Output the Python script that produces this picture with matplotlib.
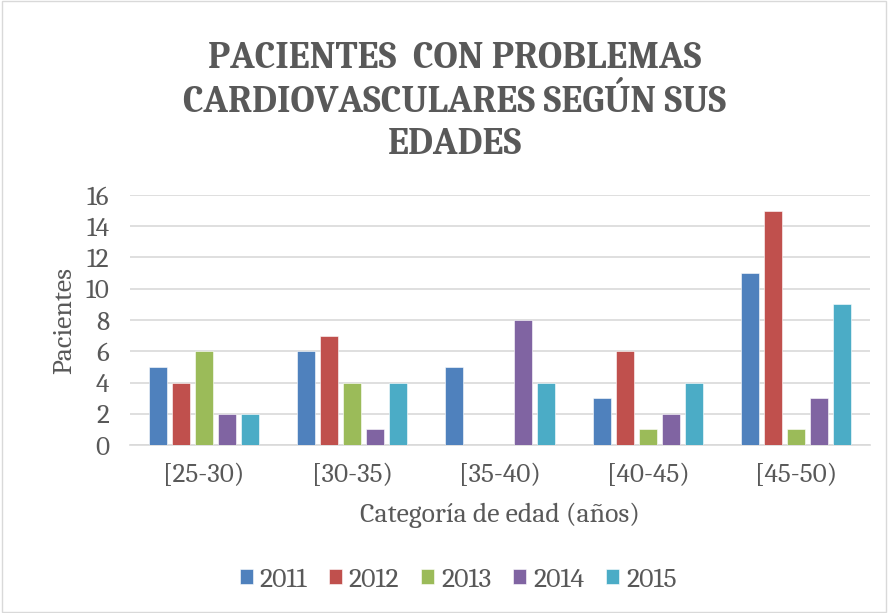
import matplotlib
matplotlib.use("Agg")
import matplotlib.pyplot as plt
import numpy as np

categories = ["[25-30)", "[30-35)", "[35-40)", "[40-45)", "[45-50)"]
years = ["2011", "2012", "2013", "2014", "2015"]
v2011 = [5, 6, 5, 3, 11]
v2012 = [4, 7, 0, 6, 15]
v2013 = [6, 4, 0, 1, 1]
v2014 = [2, 1, 8, 2, 3]
v2015 = [2, 4, 4, 4, 9]
series = [v2011, v2012, v2013, v2014, v2015]
colors = ["#4F81BD", "#C0504D", "#9BBB59", "#8064A2", "#4BACC6"]
yticks = [0, 2, 4, 6, 8, 10, 12, 14, 16]

plt.rcParams['font.family'] = ['Caladea', 'Liberation Serif', 'DejaVu Serif']
txt = "#595959"

fig = plt.figure(figsize=(8.88, 6.13), dpi=100)
fig.patches.append(plt.Rectangle((0.002, 0.002), 0.996, 0.996, transform=fig.transFigure,
                                 fill=False, edgecolor="#d9d9d9", linewidth=1))
ax = fig.add_axes([130/888, 1-445/613, 740/888, 250/613])

x = np.arange(len(categories))
spacing = 0.155
width = 0.12
for i, (vals, c, y) in enumerate(zip(series, colors, years)):
    ax.bar(x + (i - 2) * spacing, vals, width, color=c, label=y,
           edgecolor="white", linewidth=0.4, zorder=3)

ax.set_xlim(-0.5, len(categories) - 0.5)
ax.set_ylim(0, 16)
ax.set_yticks(yticks)
ax.set_xticks(x)
ax.set_xticklabels(categories)
ax.grid(axis="y", color="#d9d9d9", linewidth=1.2, zorder=0)
for s in ["top", "right", "left"]:
    ax.spines[s].set_visible(False)
ax.spines["bottom"].set_color("#d9d9d9")
ax.spines["bottom"].set_linewidth(1.2)
ax.tick_params(axis="both", length=0, colors=txt, labelsize=19.5)
ax.tick_params(axis="y", pad=15)
ax.tick_params(axis="x", pad=13)

ax.set_ylabel("Pacientes", fontsize=20, color=txt, labelpad=6)
ax.set_xlabel("Categoría de edad (años)", fontsize=20, color=txt, labelpad=10)

fig.text(455/888, 1-102/613, "PACIENTES  CON PROBLEMAS\nCARDIOVASCULARES SEGÚN SUS\nEDADES",
         ha="center", va="center", fontsize=27, fontweight="bold", color=txt, linespacing=1.3)

leg = fig.legend(loc="center", bbox_to_anchor=(458/888, 1-580/613), ncol=5, frameon=False,
                 fontsize=20, handlelength=0.47, handleheight=0.47, handletextpad=0.25,
                 columnspacing=0.78, labelcolor=txt, borderpad=0)

fig.savefig("out.png", dpi=100)
